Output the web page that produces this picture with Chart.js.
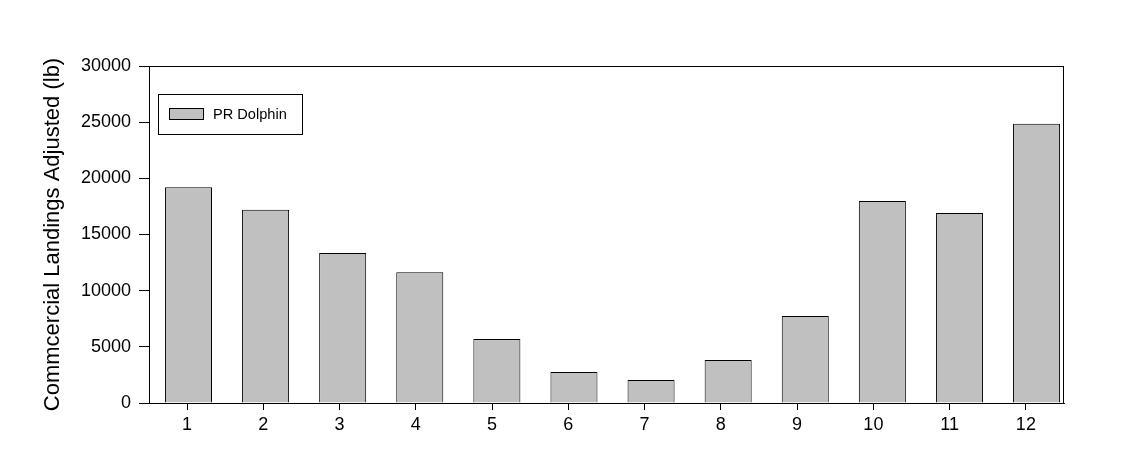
<!DOCTYPE html>
<html lang="en">
<head>
  <meta charset="UTF-8" />
  <title>PR Dolphin Commercial Landings</title>
  <script src="https://cdn.jsdelivr.net/npm/chart.js"></script>
  <style>
    body {
      margin: 0;
      padding: 0;
      background: #ffffff;
    }
    .chart-box {
      width: 1133px;
      height: 460px;
    }
  </style>
</head>
<body>

<div class="chart-box">
  <canvas id="landingsChart" width="1133" height="460"></canvas>
</div>

<script>
  // Data
  const months = ['1', '2', '3', '4', '5', '6', '7', '8', '9', '10', '11', '12'];
  const landings = [19200, 17200, 13350, 11650, 5700, 2750, 2050, 3830, 7750, 17980, 16920, 24850];
  const yTicks = [0, 5000, 10000, 15000, 20000, 25000, 30000];
  const seriesName = 'PR Dolphin';
  const yTitle = 'Commcercial Landings Adjusted (lb)';

  const fontFamily = '"Liberation Sans", Arial, sans-serif';

  // frame around the plot area + legend box inside it
  const framePlugin = {
    id: 'frame',
    afterDraw(chart) {
      const ctx = chart.ctx;
      const a = chart.chartArea;
      ctx.save();
      ctx.strokeStyle = '#000';
      ctx.lineWidth = 1;
      ctx.strokeRect(a.left + 0.5, a.top + 0.5, a.right - a.left - 1, a.bottom - a.top);

      // legend
      ctx.strokeRect(158.5, 94.5, 144, 40);
      ctx.fillStyle = '#c0c0c0';
      ctx.fillRect(169.5, 108.5, 34, 11);
      ctx.strokeRect(169.5, 108.5, 34, 11);
      ctx.fillStyle = '#000';
      ctx.font = '14.6px ' + fontFamily;
      ctx.textBaseline = 'middle';
      ctx.fillText(chart.data.datasets[0].label, 213, 114.5);
      ctx.restore();
    }
  };

  const ctx = document.getElementById('landingsChart').getContext('2d');
  new Chart(ctx, {
    type: 'bar',
    data: {
      labels: months,
      datasets: [{
        label: seriesName,
        data: landings.map((v, i) => ({ x: i + 1, y: v })),
        xAxisID: 'xb',
        backgroundColor: '#c0c0c0',
        borderColor: '#000',
        borderWidth: 1,
        barPercentage: 0.61,
        categoryPercentage: 1
      }]
    },
    options: {
      responsive: false,
      animation: false,
      layout: {
        padding: { left: 0, right: 69, top: 66, bottom: 0 }
      },
      plugins: {
        legend: { display: false },
        tooltip: { enabled: false }
      },
      scales: {
        x: {
          type: 'category',
          labels: months,
          offset: true,
          grid: {
            display: true,
            drawOnChartArea: false,
            drawTicks: true,
            tickLength: 7,
            color: '#000',
            tickColor: c => (c.index < months.length ? '#000' : 'rgba(0,0,0,0)'),
            offset: false
          },
          border: { color: '#000' },
          ticks: {
            color: '#000',
            padding: 4,
            font: { family: fontFamily, size: 18 },
            maxRotation: 0
          },
          afterFit(scale) { scale.height = 57; }
        },
        xb: {
          type: 'linear',
          display: false,
          position: 'bottom',
          offset: false,
          bounds: 'ticks',
          min: 0.488,
          max: 12.356,
          ticks: { stepSize: 1 }
        },
        y: {
          min: 0,
          max: 30000,
          afterBuildTicks(scale) {
            scale.ticks = yTicks.map(v => ({ value: v }));
          },
          grid: {
            drawOnChartArea: false,
            drawTicks: true,
            tickLength: 10,
            color: '#000'
          },
          border: { color: '#000' },
          ticks: {
            color: '#000',
            padding: 8,
            font: { family: fontFamily, size: 18 },
            callback: v => String(v)
          },
          title: {
            display: true,
            text: yTitle,
            color: '#000',
            font: { family: fontFamily, size: 22 },
            padding: { top: 40, bottom: 0 }
          },
          afterFit(scale) { scale.width = 149; }
        }
      }
    },
    plugins: [framePlugin]
  });
</script>

</body>
</html>
